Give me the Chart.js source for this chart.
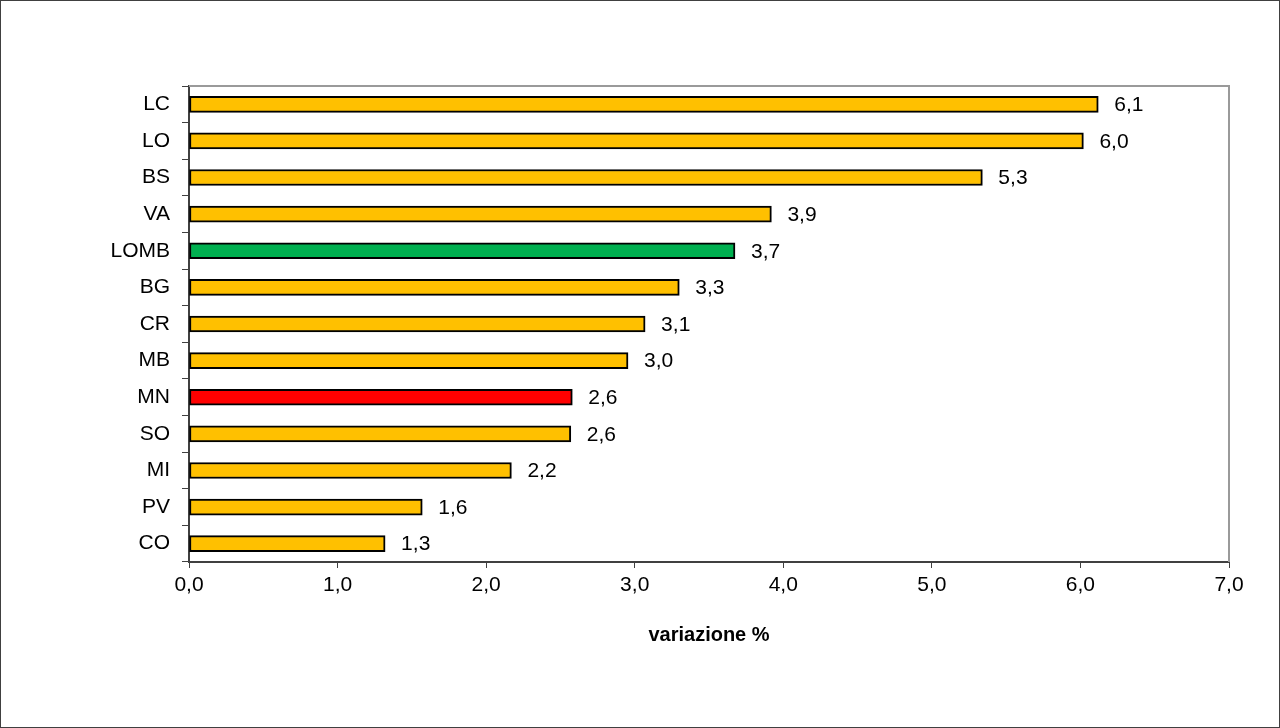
<!DOCTYPE html>
<html>
<head>
<meta charset="utf-8">
<script src="https://cdn.jsdelivr.net/npm/chart.js@4/dist/chart.umd.min.js"></script>
<style>
    html, body { margin: 0; padding: 0; background: #fff; }
    #wrap { width: 1280px; height: 728px; position: relative; }
</style>
</head>
<body>
<div id="wrap"><canvas id="chart"></canvas></div>
<script>
// Dati
const categories = ['LC', 'LO', 'BS', 'VA', 'LOMB', 'BG', 'CR', 'MB', 'MN', 'SO', 'MI', 'PV', 'CO'];
const values = [6.12, 6.02, 5.34, 3.92, 3.675, 3.30, 3.07, 2.955, 2.58, 2.57, 2.17, 1.57, 1.32];
const barColors = ['#FFC000', '#FFC000', '#FFC000', '#FFC000', '#00B050', '#FFC000', '#FFC000',
                   '#FFC000', '#FF0000', '#FFC000', '#FFC000', '#FFC000', '#FFC000'];
const xTicks = [0, 1, 2, 3, 4, 5, 6, 7];
const axisTitle = 'variazione %';

const FONT = '"Liberation Sans", Arial, sans-serif';

function fmt(v) {
    return v.toFixed(1).replace('.', ',');
}

// Cornice esterna + bordo grigio dell'area del grafico
const framePlugin = {
    id: 'frame',
    beforeDraw(chart) {
        const ctx = chart.ctx;
        ctx.save();
        ctx.fillStyle = '#fff';
        ctx.fillRect(0, 0, chart.width, chart.height);
        ctx.strokeStyle = '#404040';
        ctx.lineWidth = 1;
        ctx.strokeRect(0.5, 0.5, chart.width - 1, chart.height - 1);
        ctx.restore();
    },
    afterDraw(chart) {
        const a = chart.chartArea;
        const ctx = chart.ctx;
        ctx.save();
        ctx.strokeStyle = '#9a9a9a';
        ctx.lineWidth = 2;
        ctx.beginPath();
        ctx.moveTo(a.left, a.top);
        ctx.lineTo(a.right, a.top);
        ctx.lineTo(a.right, a.bottom);
        ctx.stroke();
        ctx.restore();
    }
};

// Etichette dei valori a destra delle barre
const valueLabels = {
    id: 'valueLabels',
    afterDatasetsDraw(chart) {
        const ctx = chart.ctx;
        const meta = chart.getDatasetMeta(0);
        ctx.save();
        ctx.font = '21px ' + FONT;
        ctx.fillStyle = '#000';
        ctx.textAlign = 'left';
        ctx.textBaseline = 'middle';
        meta.data.forEach((bar, i) => {
            ctx.fillText(fmt(values[i]), bar.x + 16, bar.y + 1);
        });
        ctx.restore();
    }
};

new Chart(document.getElementById('chart'), {
    type: 'bar',
    data: {
        labels: categories,
        datasets: [{
            data: values,
            backgroundColor: barColors,
            borderColor: '#000',
            borderWidth: 2,
            borderSkipped: false,
            barThickness: 16
        }]
    },
    options: {
        indexAxis: 'y',
        responsive: true,
        maintainAspectRatio: false,
        animation: false,
        layout: { padding: { top: 86, right: 51, left: 0, bottom: 0 } },
        plugins: {
            legend: { display: false },
            tooltip: { enabled: false }
        },
        scales: {
            x: {
                min: 0,
                max: 7,
                afterFit(scale) { scale.height = 166; },
                afterBuildTicks(scale) { scale.ticks = xTicks.map(v => ({ value: v })); },
                border: { color: '#404040', width: 2 },
                grid: {
                    drawOnChartArea: false,
                    drawTicks: true,
                    tickLength: 6,
                    color: '#404040',
                    lineWidth: 1
                },
                ticks: {
                    color: '#000',
                    padding: 5,
                    maxRotation: 0,
                    font: { family: FONT, size: 21 },
                    callback: v => fmt(v)
                },
                title: {
                    display: true,
                    text: axisTitle,
                    color: '#000',
                    font: { family: FONT, size: 20, weight: 'bold' },
                    padding: { top: 0, bottom: 81 }
                }
            },
            y: {
                afterFit(scale) { scale.width = 189; },
                border: { color: '#404040', width: 2 },
                grid: {
                    offset: true,
                    drawOnChartArea: false,
                    drawTicks: true,
                    tickLength: 7,
                    color: '#404040',
                    lineWidth: 1
                },
                ticks: {
                    color: '#000',
                    padding: 12,
                    font: { family: FONT, size: 21 }
                }
            }
        }
    },
    plugins: [framePlugin, valueLabels]
});
</script>
</body>
</html>
